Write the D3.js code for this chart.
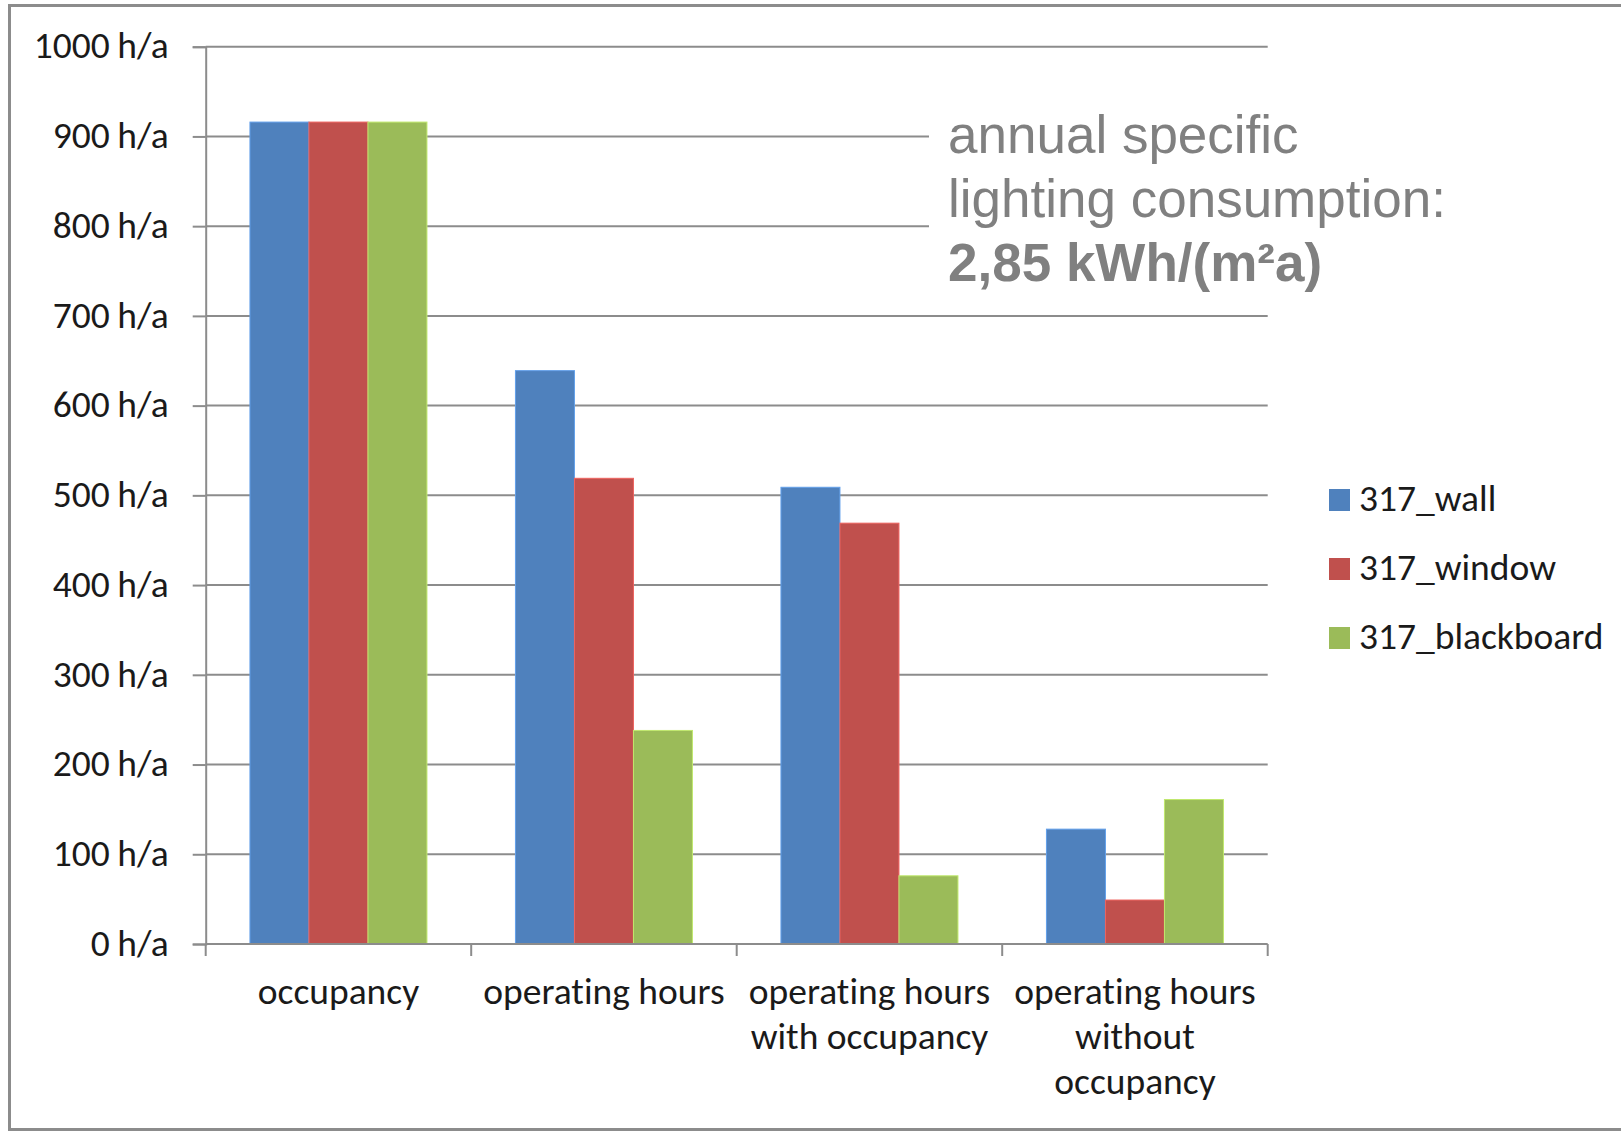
<!DOCTYPE html>
<html>
<head>
<meta charset="utf-8">
<script src="https://cdn.jsdelivr.net/npm/d3@7"></script>
<style>
  html, body { margin: 0; padding: 0; background: #fff; }
  svg { display: block; }
  .lbl { font-family: Carlito, Lato, "Open Sans", sans-serif; fill: #1a1a1a; font-variant-ligatures: none; }
  .note { font-family: "Liberation Sans", Arial, sans-serif; fill: #808080; }
</style>
</head>
<body>
<svg id="chart" width="1621" height="1131"></svg>
<script>
// Hours per year by category for each sensor position
const categories = [
  ["occupancy"],
  ["operating hours"],
  ["operating hours", "with occupancy"],
  ["operating hours", "without", "occupancy"]
];
const seriesNames = ["317_wall", "317_window", "317_blackboard"];
const seriesColors = ["#4F81BD", "#C0504D", "#9BBB59"];
const wallValues = [916, 639, 509, 128];
const windowValues = [916, 519, 469, 49];
const blackboardValues = [916, 238, 76, 161];
const yTicks = [0, 100, 200, 300, 400, 500, 600, 700, 800, 900, 1000];
const noteLines = ["annual specific", "lighting consumption:", "2,85 kWh/(m²a)"];

const seriesValues = [wallValues, windowValues, blackboardValues];
const catKeys = categories.map((c, i) => "c" + i);
const labelSize = 37.5;

const svg = d3.select("#chart");

// outer frame
svg.append("rect")
  .attr("x", 9.5).attr("y", 5.5)
  .attr("width", 1700).attr("height", 1124)
  .attr("fill", "none").attr("stroke", "#8c8c8c").attr("stroke-width", 3);

const plot = { left: 205.7, right: 1267.7, top: 46.7, bottom: 944 };

const y = d3.scaleLinear().domain([0, 1000]).range([plot.bottom, plot.top]);
const x0 = d3.scaleBand().domain(catKeys).range([plot.left, plot.right]).padding(0);
const x1 = d3.scaleBand().domain(seriesNames).range([0, x0.bandwidth()])
  .paddingInner(0).paddingOuter(0.75);

// horizontal gridlines
svg.append("g")
  .selectAll("line")
  .data(yTicks.filter(d => d > 0))
  .join("line")
  .attr("x1", plot.left).attr("x2", plot.right)
  .attr("y1", d => y(d)).attr("y2", d => y(d))
  .attr("stroke", "#8c8c8c").attr("stroke-width", 2);

// bars
const groups = svg.append("g")
  .selectAll("g")
  .data(catKeys)
  .join("g")
  .attr("transform", d => `translate(${x0(d)},0)`);

groups.selectAll("rect")
  .data((d, i) => seriesNames.map((s, j) => ({ s, j, v: seriesValues[j][i] })))
  .join("rect")
  .attr("x", d => x1(d.s))
  .attr("width", x1.bandwidth())
  .attr("y", d => y(d.v))
  .attr("height", d => y(0) - y(d.v))
  .attr("fill", d => seriesColors[d.j])
  .attr("stroke", d => d3.color(seriesColors[d.j]).brighter(0.6))
  .attr("stroke-width", 1);

// y axis
const yAxis = d3.axisLeft(y)
  .tickValues(yTicks)
  .tickSize(13)
  .tickPadding(24)
  .tickFormat(d => d + "\u2009h/a");
const gy = svg.append("g")
  .attr("transform", `translate(${plot.left},0)`)
  .call(yAxis);
gy.select(".domain").attr("stroke", "#8c8c8c").attr("stroke-width", 2);
gy.selectAll(".tick line").attr("stroke", "#8c8c8c").attr("stroke-width", 2);
gy.selectAll(".tick text")
  .attr("class", "lbl")
  .attr("font-size", labelSize)
  .attr("dy", "0.3em");

// x axis line and category ticks
svg.append("line")
  .attr("x1", plot.left).attr("x2", plot.right)
  .attr("y1", y(0)).attr("y2", y(0))
  .attr("stroke", "#8c8c8c").attr("stroke-width", 2);
const bounds = catKeys.map(k => x0(k)).concat([plot.right]);
svg.append("g")
  .selectAll("line")
  .data(bounds)
  .join("line")
  .attr("x1", d => d).attr("x2", d => d)
  .attr("y1", y(0)).attr("y2", y(0) + 12)
  .attr("stroke", "#8c8c8c").attr("stroke-width", 2);

// category labels
svg.append("g")
  .selectAll("text")
  .data(categories)
  .join("text")
  .attr("class", "lbl")
  .attr("font-size", labelSize)
  .attr("text-anchor", "middle")
  .attr("x", (d, i) => x0(catKeys[i]) + x0.bandwidth() / 2)
  .attr("y", 1004)
  .selectAll("tspan")
  .data(d => d)
  .join("tspan")
  .attr("x", function () { return d3.select(this.parentNode).attr("x"); })
  .attr("dy", (d, i) => i === 0 ? 0 : 45)
  .text(d => d);

// legend
const legend = svg.append("g").attr("transform", "translate(1329,489)");
const items = legend.selectAll("g")
  .data(seriesNames)
  .join("g")
  .attr("transform", (d, i) => `translate(0,${i * 69})`);
items.append("rect")
  .attr("width", 21).attr("height", 22)
  .attr("fill", (d, i) => seriesColors[i]);
items.append("text")
  .attr("class", "lbl")
  .attr("font-size", labelSize)
  .attr("x", 30).attr("y", 22)
  .text(d => d);

// annotation over the upper gridlines
const note = svg.append("g");
note.append("rect")
  .attr("x", 929).attr("y", 100)
  .attr("width", plot.right - 929 + 2).attr("height", 190)
  .attr("fill", "#fff");
note.selectAll("text")
  .data(noteLines)
  .join("text")
  .attr("class", "note")
  .attr("font-size", 53)
  .attr("font-weight", (d, i) => i === 2 ? "bold" : "normal")
  .attr("x", 948)
  .attr("y", (d, i) => 153 + i * 64)
  .text(d => d);
</script>
</body>
</html>
